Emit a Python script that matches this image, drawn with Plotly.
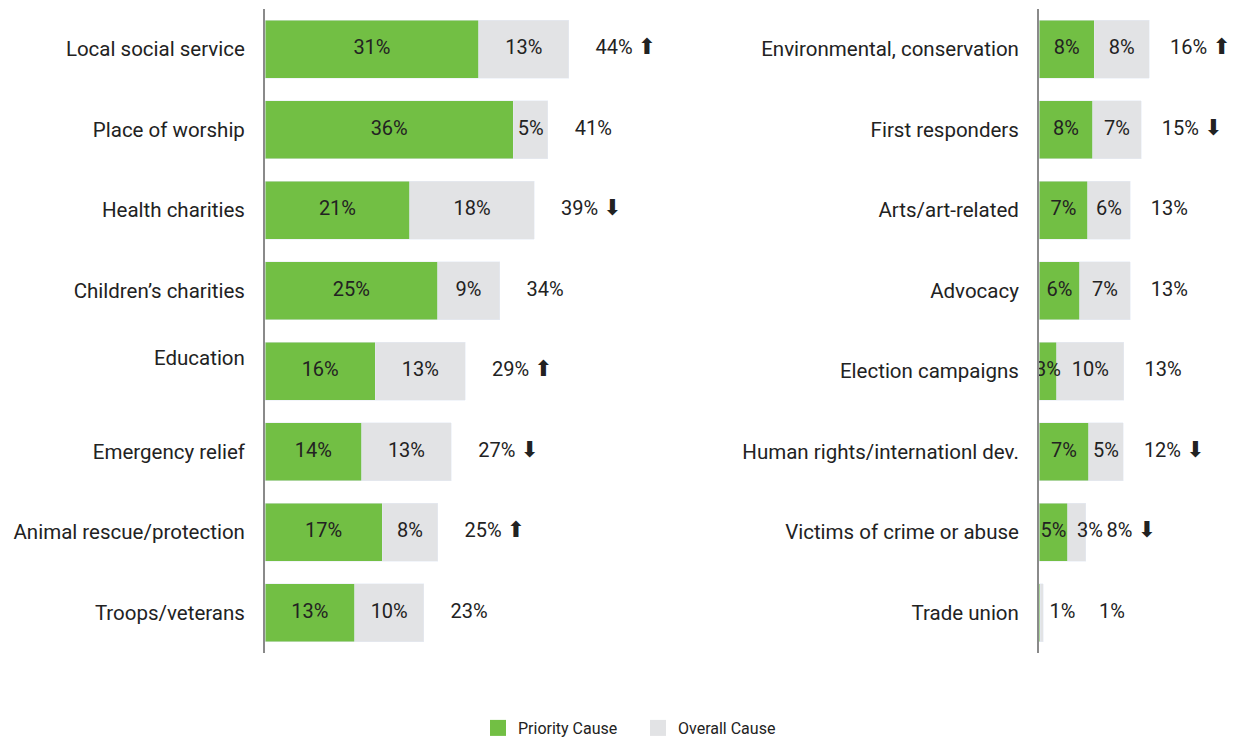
import plotly.graph_objects as go

# left panel
left_cats = ["Local social service", "Place of worship", "Health charities",
             "Children’s charities", "Education<br> ", "Emergency relief",
             "Animal rescue/protection", "Troops/veterans"]
left_priority = [31, 36, 21, 25, 16, 14, 17, 13]
left_overall = [13, 5, 18, 9, 13, 13, 8, 10]
left_total = [44, 41, 39, 34, 29, 27, 25, 23]
left_trend = ["up", "", "down", "", "up", "down", "up", ""]

# right panel
right_cats = ["Environmental, conservation", "First responders", "Arts/art-related",
              "Advocacy", "Election campaigns", "Human rights/internationl dev.",
              "Victims of crime or abuse", "Trade union"]
right_priority = [8, 7.8, 7.1, 5.9, 2.6, 7.2, 4.2, 0.2]
right_overall = [8, 7, 6.1, 7.3, 9.7, 5, 2.6, 0.4]
right_priority_lbl = ["8%", "8%", "7%", "6%", "3%", "7%", "5%", ""]
right_overall_lbl = ["8%", "7%", "6%", "7%", "10%", "5%", "3%", "1%"]
right_total_lbl = ["16%", "15%", "13%", "13%", "13%", "12%", "8%", "1%"]
right_trend = ["up", "down", "", "", "", "down", "down", ""]

GREEN = "#72bf44"
GREY = "#e2e3e5"
FONT = "Roboto, Arial, sans-serif"
ARROWS = {"up": "⬆", "down": "⬇", "": ""}


def total_text(lbl, trend):
    if not trend:
        return lbl
    return (f"{lbl} <span style='font-family:DejaVu Sans;font-size:22px'>"
            f"{ARROWS[trend]}</span>")


rows = list(range(len(left_cats)))
fig = go.Figure()


def add_panel(xa, ya, prio, over, prio_lbl, over_lbl, tot_lbl, trend, gap, min_x):
    fig.add_trace(go.Bar(y=rows, x=prio, orientation="h", marker_color=GREEN,
                         width=0.72, showlegend=False,
                         xaxis=xa, yaxis=ya, hoverinfo="skip"))
    fig.add_trace(go.Bar(y=rows, x=over, orientation="h", marker_color=GREY,
                         width=0.72, showlegend=False,
                         xaxis=xa, yaxis=ya, hoverinfo="skip"))
    lbl_font = dict(size=20, color="#222")
    # segment labels
    fig.add_trace(go.Scatter(y=rows, x=[p / 2 for p in prio], text=prio_lbl,
                             mode="text", textposition="middle center", textfont=lbl_font,
                             showlegend=False, xaxis=xa, yaxis=ya, hoverinfo="skip"))
    fig.add_trace(go.Scatter(y=rows, x=[p + (o / 2 if o >= 4 else 3.2) for p, o in zip(prio, over)],
                             text=over_lbl, mode="text", textposition="middle center",
                             textfont=lbl_font,
                             showlegend=False, xaxis=xa, yaxis=ya, hoverinfo="skip"))
    fig.add_trace(go.Scatter(y=rows, x=[max(p + o + gap, min_x) for p, o in zip(prio, over)],
                             text=[total_text(l, t) for l, t in zip(tot_lbl, trend)],
                             mode="text", textposition="middle right", textfont=lbl_font,
                             showlegend=False, xaxis=xa, yaxis=ya, hoverinfo="skip"))


add_panel("x", "y", left_priority, left_overall,
          [f"{v}%" for v in left_priority], [f"{v}%" for v in left_overall],
          [f"{v}%" for v in left_total], left_trend, 3.9, 0)
add_panel("x2", "y2", right_priority, right_overall,
          right_priority_lbl, right_overall_lbl, right_total_lbl, right_trend, 3.0, 8.7)

# legend entries
for name, col in [("Priority Cause", GREEN), ("Overall Cause", GREY)]:
    fig.add_trace(go.Scatter(x=[None], y=[None], mode="markers", name=name,
                             marker=dict(symbol="square", size=19, color=col)))

# page has an 8px body margin, so the figure is 8px smaller than the window
W, H, OFF = 1229, 732, 8
PX = 6.9  # pixels per percent
l0, r0 = (265 - OFF) / W, 0.56
l1 = (1039 - OFF) / W
ydom = [1 - (653 - OFF) / H, 1 - (9 - OFF) / H]

axis_common = dict(showgrid=False, zeroline=False, showticklabels=False,
                   fixedrange=True)
yaxis_common = dict(tickmode="array", tickvals=rows, range=[7.5, -0.5],
                    showgrid=False, zeroline=False, showline=True,
                    linecolor="#8a8a8a", linewidth=2, ticks="",
                    ticklabelstandoff=14, domain=ydom,
                    tickfont=dict(size=20.5, color="#222"))

fig.update_layout(
    barmode="stack",
    width=W, height=H,
    margin=dict(l=0, r=0, t=0, b=0, autoexpand=False),
    plot_bgcolor="white", paper_bgcolor="white",
    font=dict(family=FONT, color="#222"),
    xaxis=dict(domain=[l0, r0], range=[0, (r0 - l0) * W / PX], **axis_common),
    xaxis2=dict(domain=[l1, 1.0], range=[0, (1 - l1) * W / PX], **axis_common),
    yaxis=dict(ticktext=left_cats, anchor="x", **yaxis_common),
    yaxis2=dict(ticktext=right_cats, anchor="x2", **yaxis_common),
    legend=dict(orientation="h", x=(478 - OFF) / W, y=1 - (728 - OFF) / H,
                xanchor="left", yanchor="middle", entrywidth=115,
                font=dict(size=16, color="#222"), traceorder="normal"),
    bargap=0.28,
)

fig.write_html("out.html")
